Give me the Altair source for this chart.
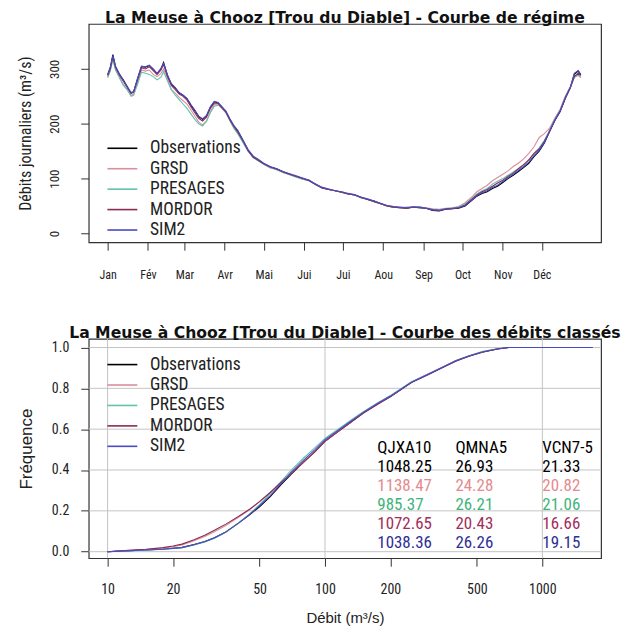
import json
import altair as alt
import pandas as pd

# ---------------------------------------------------------------- series
SERIES = ["Observations", "GRSD", "PRESAGES", "MORDOR", "SIM2"]
LINE_COLORS = ["#000000", "#d98f9c", "#62c2ad", "#8b2a52", "#4a4ac4"]
TEXT_COLORS = ["#000000", "#e58a8e", "#3db57a", "#a32c5a", "#2e2e94"]

# ---------------------------------------------------------------- regime curve (daily mean flow, m3/s)
DAYS = [
    0, 2, 4, 6, 9, 12, 15, 18, 20, 23,
    26, 29, 32, 35, 38, 41, 43, 46, 49, 52,
    55, 58, 61, 64, 67, 70, 73, 76, 79, 82,
    85, 88, 91, 94, 97, 100, 104, 108, 112, 116,
    120, 125, 130, 135, 140, 145, 150, 155, 160, 165,
    170, 175, 180, 185, 190, 195, 200, 205, 210, 215,
    220, 225, 230, 235, 240, 245, 250, 255, 260, 265,
    270, 275, 280, 284, 288, 292, 296, 300, 304, 308,
    312, 316, 320, 324, 328, 332, 336, 340, 344, 348,
    352, 356, 359, 362, 364,
]
REG_OBS = [
    289, 302, 326, 304, 290, 280, 268, 256, 258, 282,
    304, 303, 306, 299, 291, 300, 312, 288, 272, 265,
    256, 252, 246, 234, 224, 213, 208, 214, 230, 240,
    238, 230, 222, 208, 196, 187, 170, 152, 140, 134,
    127, 121, 118, 112, 108, 104, 100, 97, 89, 83,
    80, 78, 75, 72, 70, 65, 62, 59, 54, 50,
    48, 47, 46, 48, 47, 46, 42, 41, 44, 45,
    46, 50, 60, 68, 73, 76, 82, 86, 93, 100,
    106, 113, 120, 128, 140, 150, 165, 186, 206, 222,
    246, 266, 290, 296, 289,
]
REG_GRSD = [
    285, 298, 318, 300, 286, 272, 262, 250, 252, 275,
    298, 296, 298, 290, 286, 292, 300, 282, 262, 256,
    248, 242, 236, 225, 214, 203, 198, 205, 222, 235,
    236, 228, 220, 206, 194, 184, 168, 150, 139, 133,
    126, 120, 117, 111, 107, 103, 99, 96, 90, 84,
    81, 78, 76, 73, 70, 66, 62, 58, 54, 51,
    49, 47, 48, 49, 48, 47, 45, 44, 46, 47,
    49, 56, 66, 76, 82, 88, 96, 102, 108, 114,
    122, 128, 136, 146, 158, 175, 182, 192, 210, 226,
    250, 268, 285, 288, 284,
]
REG_PRESAGES = [
    284, 296, 318, 298, 284, 270, 262, 252, 254, 272,
    294, 292, 290, 286, 280, 285, 295, 278, 262, 252,
    244, 236, 228, 218, 208, 200, 196, 204, 220, 232,
    234, 228, 220, 206, 192, 182, 166, 150, 138, 132,
    126, 120, 116, 111, 107, 103, 99, 96, 89, 84,
    80, 78, 75, 72, 70, 66, 62, 58, 54, 50,
    48, 47, 47, 48, 48, 46, 44, 43, 45, 46,
    48, 54, 63, 72, 78, 82, 90, 95, 100, 106,
    112, 118, 126, 134, 146, 156, 170, 188, 208, 224,
    248, 266, 284, 290, 285,
]
REG_MORDOR = [
    288, 300, 322, 303, 289, 278, 266, 255, 258, 280,
    302, 300, 304, 297, 290, 298, 308, 286, 270, 262,
    254, 250, 243, 231, 220, 210, 205, 212, 228, 238,
    237, 229, 221, 207, 195, 185, 169, 151, 139, 133,
    127, 121, 117, 112, 108, 104, 100, 96, 89, 83,
    80, 78, 75, 72, 70, 66, 62, 58, 54, 50,
    48, 47, 46, 48, 47, 46, 43, 42, 44, 45,
    47, 52, 62, 70, 76, 80, 86, 92, 97, 104,
    110, 118, 125, 134, 146, 154, 168, 186, 206, 222,
    246, 266, 286, 292, 288,
]
REG_SIM2 = [
    290, 303, 324, 305, 291, 279, 267, 257, 259, 283,
    305, 304, 307, 300, 292, 301, 310, 289, 273, 266,
    257, 252, 246, 235, 225, 214, 209, 215, 231, 241,
    239, 231, 223, 209, 197, 188, 171, 153, 141, 135,
    128, 122, 118, 113, 109, 105, 101, 97, 90, 84,
    81, 78, 76, 73, 71, 66, 63, 59, 55, 51,
    49, 48, 47, 48, 48, 46, 43, 42, 45, 46,
    47, 51, 61, 69, 74, 78, 84, 88, 95, 102,
    108, 115, 122, 130, 142, 152, 166, 187, 207, 223,
    247, 267, 292, 297, 290,
]
MONTH_STARTS = [0, 31, 59, 90, 120, 151, 181, 212, 243, 273, 304, 334]
MONTH_LABELS = ["Jan", "Fév", "Mar", "Avr", "Mai", "Jui", "Jui", "Aou", "Sep", "Oct", "Nov", "Déc"]

# ---------------------------------------------------------------- flow duration curve
FLOWS = [10, 12, 15, 18, 20, 22, 25, 28, 31, 35,
         40, 45, 50, 56, 63, 70, 80, 90, 100, 115,
         130, 150, 175, 200, 250, 300, 350, 400, 460, 530,
         620, 700, 1000, 1400, 1700]
FDC_OBS = [0.0, 0.004, 0.008, 0.013, 0.017, 0.021, 0.035, 0.05, 0.068, 0.097,
           0.14, 0.18, 0.22, 0.27, 0.33, 0.38, 0.44, 0.49, 0.54, 0.59,
           0.63, 0.68, 0.725, 0.76, 0.83, 0.87, 0.905, 0.935, 0.958, 0.978,
           0.993, 1.0, 1.0, 1.0, 1.0]
FDC_GRSD = [0.0, 0.005, 0.01, 0.017, 0.024, 0.033, 0.053, 0.074, 0.098, 0.128,
            0.168, 0.205, 0.245, 0.29, 0.34, 0.385, 0.44, 0.49, 0.54, 0.59,
            0.63, 0.68, 0.725, 0.762, 0.83, 0.872, 0.906, 0.935, 0.96, 0.98,
            0.994, 1.0, 1.0, 1.0, 1.0]
FDC_PRESAGES = [0.0, 0.003, 0.007, 0.012, 0.016, 0.02, 0.033, 0.048, 0.066, 0.095,
                0.14, 0.185, 0.23, 0.285, 0.345, 0.40, 0.46, 0.51, 0.555, 0.6,
                0.64, 0.685, 0.73, 0.765, 0.832, 0.872, 0.906, 0.936, 0.96, 0.98,
                0.994, 1.0, 1.0, 1.0, 1.0]
FDC_MORDOR = [0.0, 0.006, 0.012, 0.02, 0.028, 0.037, 0.058, 0.08, 0.105, 0.135,
              0.172, 0.208, 0.245, 0.29, 0.34, 0.385, 0.44, 0.49, 0.54, 0.588,
              0.63, 0.678, 0.722, 0.758, 0.828, 0.868, 0.903, 0.933, 0.957, 0.977,
              0.993, 1.0, 1.0, 1.0, 1.0]
FDC_SIM2 = [0.0, 0.004, 0.008, 0.012, 0.016, 0.02, 0.034, 0.049, 0.067, 0.096,
            0.14, 0.182, 0.225, 0.275, 0.335, 0.39, 0.45, 0.5, 0.548, 0.595,
            0.635, 0.682, 0.727, 0.762, 0.83, 0.87, 0.905, 0.935, 0.958, 0.978,
            0.993, 1.0, 1.0, 1.0, 1.0]
FLOW_TICKS = [10, 20, 50, 100, 200, 500, 1000]
FLOW_GRID = [10, 100, 1000]
FREQ_TICKS = [0.0, 0.2, 0.4, 0.6, 0.8, 1.0]

# ---------------------------------------------------------------- low/high flow statistics
STAT_NAMES = ["QJXA10", "QMNA5", "VCN7-5"]
QJXA10 = [1048.25, 1138.47, 985.37, 1072.65, 1038.36]
QMNA5 = [26.93, 24.28, 26.21, 20.43, 26.26]
VCN7_5 = [21.33, 20.82, 21.06, 16.66, 19.15]

# ---------------------------------------------------------------- styling
NARROW = "'Roboto Condensed', 'DejaVu Sans Condensed', 'Liberation Sans Narrow', 'Liberation Sans', sans-serif"
TITLE_FONT = "DejaVu Sans"
W = 514

regime_values = [REG_OBS, REG_GRSD, REG_PRESAGES, REG_MORDOR, REG_SIM2]
regime = pd.DataFrame(
    [{"day": d, "debit": v, "serie": s, "ordre": i}
     for i, (s, vals) in enumerate(zip(SERIES, regime_values))
     for d, v in zip(DAYS, vals)]
)
fdc_values = [FDC_OBS, FDC_GRSD, FDC_PRESAGES, FDC_MORDOR, FDC_SIM2]
fdc = pd.DataFrame(
    [{"q": q, "f": f, "serie": s, "ordre": i}
     for i, (s, vals) in enumerate(zip(SERIES, fdc_values))
     for q, f in zip(FLOWS, vals)]
)

# statistics table laid out over the duration-curve panel
col_anchor = [174, 398, 1000]   # flow where each column starts
row_top, row_step = 0.507, 0.0925
rows = [{"q": col_anchor[j], "f": row_top, "txt": STAT_NAMES[j], "c": "#000000"} for j in range(3)]
for i, s in enumerate(SERIES):
    for j, col in enumerate([QJXA10, QMNA5, VCN7_5]):
        rows.append({"q": col_anchor[j], "f": row_top - (i + 1) * row_step,
                     "txt": f"{col[i]:.2f}", "c": TEXT_COLORS[i]})
table = pd.DataFrame(rows)

color_scale = alt.Scale(domain=SERIES, range=LINE_COLORS)


def legend(y):
    # short horizontal stroke as symbol, drawn 30 px long on a 10 px layout box
    return alt.Legend(
        orient="none", legendX=25, legendY=y, title=None,
        symbolType="M-3,0H3", symbolSize=100, symbolStrokeWidth=1.6,
        symbolFillColor="transparent",
        labelFontSize=17.5, labelFont=NARROW, labelColor="#222222",
        rowPadding=1.5, labelOffset=19, padding=0, offset=0,
    )


def title(text):
    return alt.TitleParams(text, font=TITLE_FONT, fontSize=15.7, fontWeight="bold",
                           color="#111111", anchor="middle", offset=-3)


axis_common = dict(
    labelFont=NARROW, titleFontWeight="normal",
    tickSize=8, tickColor="#333333", domain=False, grid=False,
    labelColor="#222222", titleColor="#222222",
)

# ---------------------------------------------------------------- top panel: regime
month_expr = (f"{json.dumps(MONTH_LABELS, ensure_ascii=False)}"
              f"[indexof({json.dumps(MONTH_STARTS)}, datum.value)]")

top = alt.Chart(regime).mark_line(strokeWidth=1.1).encode(
    x=alt.X("day:Q", scale=alt.Scale(domain=[-14.6, 379.6], nice=False, zero=False),
            axis=alt.Axis(values=MONTH_STARTS, labelExpr=month_expr, title=None,
                          labelFontSize=12, labelPadding=19, **axis_common)),
    y=alt.Y("debit:Q", scale=alt.Scale(domain=[-16, 382], nice=False, zero=False),
            axis=alt.Axis(values=[0, 100, 200, 300], title="Débits journaliers (m³/s)",
                          labelAngle=270, labelAlign="center", labelBaseline="bottom",
                          labelFontSize=13, labelPadding=19, titleFont=NARROW,
                          titleFontSize=16, titlePadding=15, **axis_common)),
    color=alt.Color("serie:N", scale=color_scale, legend=legend(116)),
    order="ordre:Q",
    detail="serie:N",
).properties(width=W, height=219, title=title("La Meuse à Chooz [Trou du Diable] - Courbe de régime"))

# ---------------------------------------------------------------- bottom panel: duration curve
xq = alt.Scale(type="log", domain=[8.19, 1862], nice=False)
yf = alt.Scale(domain=[-0.032, 1.042], nice=False, zero=False)

hgrid = alt.Chart(pd.DataFrame({"f": FREQ_TICKS})).mark_rule(color="#c4c4c4", strokeWidth=1).encode(
    y=alt.Y("f:Q", scale=yf))
vgrid = alt.Chart(pd.DataFrame({"q": FLOW_GRID})).mark_rule(color="#c4c4c4", strokeWidth=1).encode(
    x=alt.X("q:Q", scale=xq))

curves = alt.Chart(fdc).mark_line(strokeWidth=1.1).encode(
    x=alt.X("q:Q", scale=xq,
            axis=alt.Axis(values=FLOW_TICKS, format="d", title="Débit (m³/s)",
                          labelFontSize=14, labelPadding=16, titleFont="Liberation Sans",
                          titleFontSize=15, titlePadding=14, **axis_common)),
    y=alt.Y("f:Q", scale=yf,
            axis=alt.Axis(values=FREQ_TICKS, format=".1f", title="Fréquence",
                          labelFontSize=14, labelPadding=12, titleFont="Liberation Sans",
                          titleFontSize=17, titlePadding=16, **axis_common)),
    color=alt.Color("serie:N", scale=color_scale, legend=legend(17)),
    order="ordre:Q",
    detail="serie:N",
)

stats = alt.Chart(table).mark_text(align="left", baseline="middle", font=NARROW, fontSize=17).encode(
    x=alt.X("q:Q", scale=xq),
    y=alt.Y("f:Q", scale=yf),
    text="txt:N",
    color=alt.Color("c:N", scale=None),
)

bottom = alt.layer(hgrid, vgrid, curves, stats).properties(
    width=W, height=220,
    title=title("La Meuse à Chooz [Trou du Diable] - Courbe des débits classés"),
)

chart = alt.vconcat(top, bottom, spacing=43).resolve_scale(
    color="independent"
).resolve_legend(color="independent").properties(
    padding={"left": 16, "top": 8, "right": 0, "bottom": 0},
    background="white",
).configure_view(stroke="#333333", strokeWidth=1.2)

chart.save("out.html", embed_options={"renderer": "svg", "actions": False})
